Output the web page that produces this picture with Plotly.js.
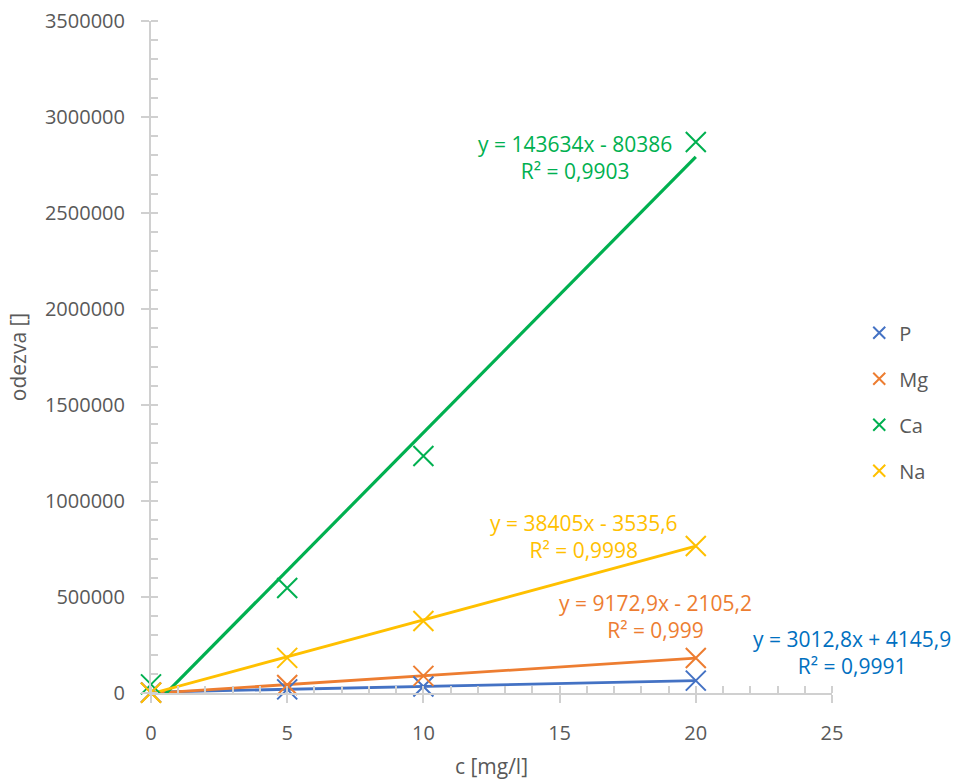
<!DOCTYPE html>
<html>
<head>
<meta charset="utf-8">
<script src="https://cdn.plot.ly/plotly-3.0.1.min.js"></script>
<style>html,body{margin:0;padding:0;background:#fff;}#chart{width:960px;height:780px;}</style>
</head>
<body>
<div id="chart"></div>
<script>
// ---- data ----
const concentrations = [0, 5, 10, 20];
const seriesNames = ['P', 'Mg', 'Ca', 'Na'];
const valuesP  = [3000, 19000, 34000, 64500];
const valuesMg = [2000, 42000, 89000, 182000];
const valuesCa = [45000, 547000, 1234000, 2870000];
const valuesNa = [1000, 183000, 375000, 766000];
// linear trendline coefficients (y = slope*x + intercept) as printed on the chart
const slopes     = [3012.8, 9172.9, 143634, 38405];
const intercepts = [4145.9, -2105.2, -80386, -3535.6];
const equationTexts = [
  'y = 3012,8x + 4145,9<br>R² = 0,9991',
  'y = 9172,9x - 2105,2<br>R² = 0,999',
  'y = 143634x - 80386<br>R² = 0,9903',
  'y = 38405x - 3535,6<br>R² = 0,9998'
];
const trendRange = [0, 20];

// ---- styles ----
const colors = ['#4472C4', '#ED7D31', '#00B050', '#FFC000'];
const eqColors = ['#0070C0', '#ED7D31', '#00B050', '#FFC000'];
const FONT = 'Open Sans, sans-serif';
const allValues = [valuesP, valuesMg, valuesCa, valuesNa];

const traces = [];
seriesNames.forEach((n, i) => {
  traces.push({
    type: 'scatter', mode: 'lines',
    x: trendRange,
    y: trendRange.map(x => slopes[i] * x + intercepts[i]),
    line: {color: colors[i], width: i === 2 ? 3.2 : 2.8},
    showlegend: false, hoverinfo: 'skip', cliponaxis: true
  });
});
seriesNames.forEach((n, i) => {
  traces.push({
    type: 'scatter', mode: 'markers', name: n,
    x: concentrations, y: allValues[i],
    marker: {symbol: 'x-thin', size: 20, line: {color: colors[i], width: 2}, color: colors[i]},
    cliponaxis: false, legendgroup: n
  });
});

const annotations = [
  {text: equationTexts[2], x: 15.55, y: 2791000, xref: 'x', yref: 'y', color: eqColors[2]},
  {text: equationTexts[3], x: 15.88, y: 817000, xref: 'x', yref: 'y', color: eqColors[3]},
  {text: equationTexts[1], x: 18.53, y: 396000, xref: 'x', yref: 'y', color: eqColors[1]},
  {text: equationTexts[0], x: 1.029, y: 0.061, xref: 'paper', yref: 'paper', color: eqColors[0]}
].map(a => ({
  text: a.text, x: a.x, y: a.y, xref: a.xref, yref: a.yref,
  xanchor: 'center', yanchor: 'middle', showarrow: false, align: 'center',
  font: {family: FONT, size: 21, color: a.color}
}));

const axisCommon = {
  showgrid: false, zeroline: false, showline: true,
  linecolor: '#D0D0D0', linewidth: 2,
  ticks: 'outside', ticklen: 8, tickwidth: 2, tickcolor: '#D0D0D0',
  tickfont: {family: FONT, size: 20, color: '#595959'},
  fixedrange: true
};

const layout = {
  width: 960, height: 780,
  margin: {l: 151, r: 128, t: 21, b: 87, pad: 0},
  paper_bgcolor: '#ffffff', plot_bgcolor: '#ffffff',
  showlegend: true,
  legend: {
    x: 1.04, y: 0.565, xanchor: 'left', yanchor: 'top',
    font: {family: FONT, size: 20, color: '#595959'},
    traceorder: 'grouped', tracegroupgap: 17, itemwidth: 30, itemsizing: 'constant'
  },
  xaxis: Object.assign({}, axisCommon, {
    range: [0, 25], tickvals: [0, 5, 10, 15, 20, 25], ticktext: ['0','5','10','15','20','25'],
    ticklabelstandoff: 13,
    minor: {dtick: 1, ticks: 'inside', ticklen: 7, tickwidth: 2, tickcolor: '#D0D0D0'},
    title: {text: 'c [mg/l]', font: {family: FONT, size: 21, color: '#595959'}, standoff: 16}
  }),
  yaxis: Object.assign({}, axisCommon, {
    range: [0, 3500000], dtick: 500000, tickformat: 'd',
    ticklabelstandoff: 12,
    minor: {dtick: 100000, ticks: 'inside', ticklen: 7, tickwidth: 2, tickcolor: '#D0D0D0'},
    title: {text: 'odezva []', font: {family: FONT, size: 21, color: '#595959'}, standoff: 13}
  }),
  xaxis2: {overlaying: 'x', matches: 'x', range: [0, 25], side: 'bottom', anchor: 'y',
    showgrid: false, zeroline: false, showline: false, showticklabels: false,
    ticks: 'inside', ticklen: 7, tickwidth: 2, tickcolor: '#D0D0D0', dtick: 5, tick0: 0, fixedrange: true},
  yaxis2: {overlaying: 'y', range: [0, 3500000], side: 'left', anchor: 'x',
    showgrid: false, zeroline: false, showline: false, showticklabels: false,
    ticks: 'inside', ticklen: 7, tickwidth: 2, tickcolor: '#D0D0D0', dtick: 500000, tick0: 0, fixedrange: true},
  annotations: annotations
};

traces.push({type: 'scatter', mode: 'markers', x: [0], y: [0], xaxis: 'x2', yaxis: 'y2',
  marker: {opacity: 0}, showlegend: false, hoverinfo: 'skip'});

Plotly.newPlot('chart', traces, layout, {staticPlot: true, displayModeBar: false});
</script>
</body>
</html>
